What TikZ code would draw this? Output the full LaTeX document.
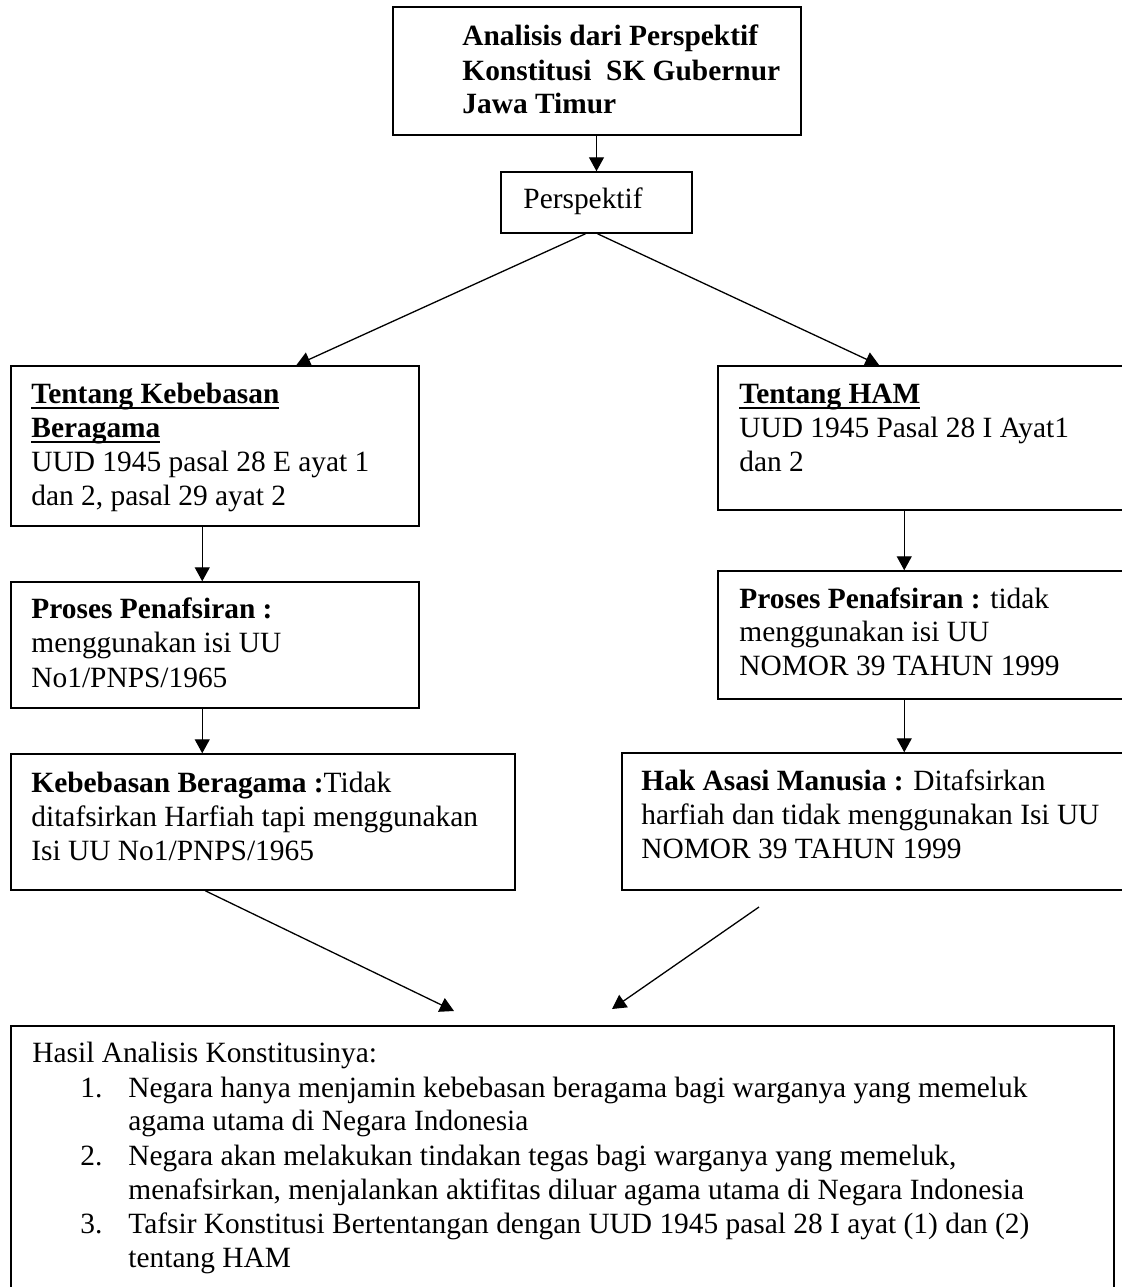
\documentclass[tikz,border=0pt]{standalone}
\usepackage{fontspec}
\setmainfont{Liberation Serif}
\usetikzlibrary{arrows.meta,fit,calc}
\newcommand\myul[1]{\setbox0=\hbox{#1}\rlap{\rule[-3pt]{\wd0}{0.9pt}}\box0}
\tikzset{
  box/.style={draw, line width=0.75pt, inner sep=0pt, rectangle},
  txt/.style={anchor=base west, inner sep=0pt, font=\fontsize{14.7pt}{17pt}\selectfont},
  conn/.style={line width=0.65pt, -{Triangle[width=7.5pt,length=7pt]}},
}
\begin{document}
\begin{tikzpicture}[x=0.5pt,y=-0.5pt]
\useasboundingbox (0,0) rectangle (1121,1287);
\fill[white] (0,0) rectangle (1121,1287);
% boxes
\node[box, fit={(393,7) (801,135)}] (top) {};
\node[box, fit={(501,172) (692,233)}] (persp) {};
\node[box, fit={(11,366) (419,526)}] (L1) {};
\node[box, fit={(11,582) (419,708)}] (L2) {};
\node[box, fit={(11,754) (515,890)}] (L3) {};
\node[box, fit={(718,366) (1127,510)}] (R1) {};
\node[box, fit={(718,571) (1127,699)}] (R2) {};
\node[box, fit={(622,753) (1127,890)}] (R3) {};
\node[box, fit={(11,1026) (1114,1300)}] (res) {};
% texts
\node[txt] (t1) at (462,45) {\textbf{Analisis dari Perspektif}};
\node[txt] (t2) at (462,80) {\textbf{Konstitusi\ \ SK Gubernur}};
\node[txt] (t3) at (462,113) {\textbf{Jawa Timur}};
\node[txt] (p1) at (523,208) {Perspektif};
\node[txt] (a1) at (31,403) {\textbf{\myul{Tentang Kebebasan}}};
\node[txt] (a2) at (31,437) {\textbf{\myul{Beragama}}};
\node[txt] (a3) at (31,471) {UUD 1945 pasal 28 E ayat 1};
\node[txt] (a4) at (31,505) {dan 2, pasal 29 ayat 2};
\node[txt] (b1) at (31,618) {\textbf{Proses Penafsiran :}};
\node[txt] (b2) at (31,652) {menggunakan isi UU};
\node[txt] (b3) at (31,687) {No1/PNPS/1965};
\node[txt] (c1) at (31,792) {\textbf{Kebebasan Beragama :}Tidak};
\node[txt] (c2) at (31,826) {ditafsirkan Harfiah tapi menggunakan};
\node[txt] (c3) at (31,860) {Isi UU No1/PNPS/1965};
\node[txt] (d1) at (739,403) {\textbf{\myul{Tentang HAM}}};
\node[txt] (d2) at (739,437) {UUD 1945 Pasal 28 I Ayat1};
\node[txt] (d3) at (739,471) {dan 2};
\node[txt] (e1) at (739,608) {\textbf{Proses Penafsiran :} tidak};
\node[txt] (e2) at (739,641) {menggunakan isi UU};
\node[txt] (e3) at (739,675) {NOMOR 39 TAHUN 1999};
\node[txt] (f1) at (641,790) {\textbf{Hak Asasi Manusia :} Ditafsirkan};
\node[txt] (f2) at (641,824) {harfiah dan tidak menggunakan Isi UU};
\node[txt] (f3) at (641,858) {NOMOR 39 TAHUN 1999};
\node[txt] (g0) at (32,1062) {Hasil Analisis Konstitusinya:};
\node[txt] (n1) at (80,1097) {1.};
\node[txt] (g1) at (128,1097) {Negara hanya menjamin kebebasan beragama bagi warganya yang memeluk};
\node[txt] (g2) at (128,1130) {agama utama di Negara Indonesia};
\node[txt] (n2) at (80,1165) {2.};
\node[txt] (g3) at (128,1165) {Negara akan melakukan tindakan tegas bagi warganya yang memeluk,};
\node[txt] (g4) at (128,1199) {menafsirkan, menjalankan aktifitas diluar agama utama di Negara Indonesia};
\node[txt] (n3) at (80,1233) {3.};
\node[txt] (g5) at (128,1233) {Tafsir Konstitusi Bertentangan dengan UUD 1945 pasal 28 I ayat (1) dan (2)};
\node[txt] (g6) at (128,1267) {tentang HAM};
% connectors
\coordinate (rs) at (759,907);
\coordinate (lt) at (454,1011);
\coordinate (rt) at (612,1009);
\draw[conn] (top.south -| persp.north) -- (persp.north);
\draw[conn] ($(persp.south)+(-11,0)$) -- ($(L1.north west)+(286,0)$);
\draw[conn] ($(persp.south)+(1,0)$) -- ($(R1.north west)+(162,0)$);
\draw[conn] ($(L1.south west)+(192,0)$) -- ($(L2.north west)+(192,0)$);
\draw[conn] ($(L2.south west)+(192,0)$) -- ($(L3.north west)+(192,0)$);
\draw[conn] ($(R1.south west)+(187,0)$) -- ($(R2.north west)+(187,0)$);
\draw[conn] ($(R2.south west)+(187,0)$) -- ($(R3.north west)+(283,0)$);
\draw[conn] ($(L3.south west)+(195,0)$) -- (lt);
\draw[conn] (rs) -- (rt);
\end{tikzpicture}
\end{document}
